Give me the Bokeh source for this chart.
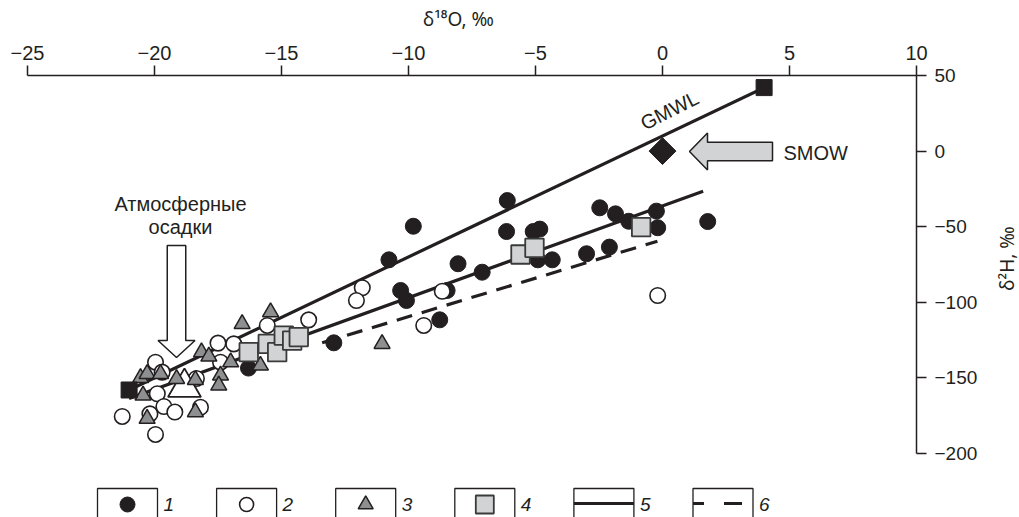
import math
from bokeh.plotting import figure
from bokeh.layouts import row
from bokeh.models import Range1d, LinearAxis, FixedTicker, Label, Grid
from bokeh.core.properties import value
from bokeh.embed import file_html
from bokeh.resources import INLINE

# ---------------- data ----------------
# 1: filled circles
s1_d18o = [-6.11, -6.14, -5.09, -4.83, -7.10, -8.05, -4.91, -4.34, -2.99, -2.09, -2.47, -1.85,
           -1.33, -0.24, -0.19, 1.78, -9.81, -10.77, -10.31, -10.08, -8.48, -8.77, -12.94, -16.30]
s1_d2h = [-32.7, -53.2, -53.2, -51.6, -80.1, -74.5, -71.9, -71.9, -67.9, -63.5, -37.5, -41.5,
          -46.4, -39.7, -50.7, -46.6, -49.7, -71.9, -92.2, -98.8, -92.2, -111.6, -126.8, -143.5]
# 2: open circles
s2_d18o = [-11.82, -12.05, -8.67, -9.40, -13.93, -0.19, -15.56, -17.50, -16.88, -17.40, -19.96,
           -19.70, -19.89, -21.27, -20.18, -19.63, -19.20, -19.96, -18.19, -18.35]
s2_d2h = [-90.4, -98.8, -92.7, -115.3, -111.6, -95.5, -115.3, -127.0, -127.5, -139.6, -139.6,
          -146.2, -160.5, -175.5, -173.8, -168.9, -172.6, -187.4, -169.4, -150.4]
# 3: grey triangles
s3_d18o = [-20.55, -20.29, -19.76, -19.13, -20.45, -18.39, -18.15, -17.86, -20.29, -18.39,
           -15.43, -16.55, -17.00, -17.40, -17.47, -15.83, -11.04]
s3_d2h = [-150.0, -147.3, -147.3, -150.6, -161.6, -151.3, -133.0, -135.8, -177.0, -172.6,
          -106.5, -114.3, -139.6, -148.4, -155.0, -141.8, -127.5]
# 4: grey squares
s4_d18o = [-16.29, -15.54, -15.17, -14.91, -14.58, -14.32, -5.59, -5.04, -0.84]
s4_d2h = [-133.0, -127.5, -133.0, -122.0, -125.3, -123.0, -68.4, -64.0, -50.3]
# mean atmospheric precipitation (large open triangle)
precip_d18o = [-18.82]
precip_d2h = [-156.3]
# GMWL end points (black squares) and line
gmwl_d18o = [-21.0, 4.0]
gmwl_d2h = [-158.0, 42.0]
# local line (5) and dashed line (6)
line5_d18o = [-21.0, 1.6]
line5_d2h = [-163.7, -26.5]
line6_d18o = [-13.4, -0.2]
line6_d2h = [-126.8, -59.6]
# SMOW
smow_d18o = [0.0]
smow_d2h = [0.0]

x_ticks = [-25, -20, -15, -10, -5, 0, 5, 10]
y_ticks = [-200, -150, -100, -50, 0, 50]
legend_labels = ["1", "2", "3", "4", "5", "6"]
y_title = "\u03b4\u00b2H, \u2030"

# ---------------- layout constants ----------------
W, H = 1019, 517
W_SIDE = 27    # narrow strip on the far right holding the d2H title
W_MAIN = W - W_SIDE
XS = 25.4      # px per permil d18O
YS = 1.512     # px per permil d2H
X0PX = 662.0   # pixel of d18O = 0
TOP = 75       # pixel of d2H = 50
RIGHT = 916    # pixel of d18O = 10 (right axis)
BLACK = "#231f20"
GREY_D = "#8e8f91"
GREY_L = "#d1d3d4"
FONT = "Liberation Sans"

x_start = -X0PX / XS
y_start = 50 - (H - TOP) / YS


def px_x(px):
    return (px - X0PX) / XS


def px_y(py):
    return 50 - (py - TOP) / YS


p = figure(width=W_MAIN, height=H, output_backend="svg", toolbar_location=None,
           x_range=Range1d(x_start, 10), y_range=Range1d(y_start, 50),
           x_axis_location=None, y_axis_location=None,
           min_border_left=0, min_border_right=W_MAIN - RIGHT, min_border_top=TOP, min_border_bottom=0)
p.outline_line_color = None
p.background_fill_color = "white"
p.border_fill_color = "white"
for r in list(p.center):
    if isinstance(r, Grid):
        r.visible = False

minus = lambda t: ("\u2212" + str(abs(t))) if t < 0 else str(t)

xa = LinearAxis(ticker=FixedTicker(ticks=x_ticks), bounds=(-25, 10),
                axis_label="\u03b4\u00b9\u2078O, \u2030",
                major_label_overrides={t: minus(t) for t in x_ticks})
ya = LinearAxis(ticker=FixedTicker(ticks=y_ticks), bounds=(-200, 50),
                major_label_overrides={t: minus(t) for t in y_ticks})
for ax in (xa, ya):
    ax.axis_line_color = BLACK
    ax.axis_line_width = 1.5
    ax.major_tick_line_color = BLACK
    ax.major_tick_line_width = 1.5
    ax.major_tick_in = 0
    ax.major_tick_out = 10
    ax.minor_tick_in = 0
    ax.minor_tick_out = 0
    ax.major_label_text_font = FONT
    ax.major_label_text_color = BLACK
    ax.axis_label_text_font = "Noto Sans"
    ax.axis_label_text_font_style = "normal"
    ax.axis_label_text_color = BLACK
    ax.axis_label_text_font_size = "19px"
xa.major_label_text_font_size = "20px"
xa.major_label_standoff = 6
xa.axis_label_standoff = 11
ya.major_label_text_font_size = "19px"
ya.major_label_standoff = 8
p.add_layout(xa, "above")
p.add_layout(ya, "right")

# ---------------- lines ----------------
p.line(gmwl_d18o, gmwl_d2h, line_color=BLACK, line_width=3.2)
p.line(line5_d18o, line5_d2h, line_color=BLACK, line_width=3.2)
p.line(line6_d18o, line6_d2h, line_color=BLACK, line_width=3.2, line_dash="16 10")

# ---------------- markers ----------------
p.scatter(s1_d18o, s1_d2h, marker="circle", size=16, fill_color=BLACK, line_color=BLACK, line_width=1)
p.scatter(s2_d18o, s2_d2h, marker="circle", size=15.5, fill_color="white", line_color=BLACK, line_width=1.6)
p.scatter(precip_d18o, precip_d2h, marker="triangle", size=33, fill_color="white", line_color=BLACK, line_width=1.8)
p.scatter(s3_d18o, s3_d2h, marker="triangle", size=16, fill_color=GREY_D, line_color=BLACK, line_width=1.5)
p.scatter(s4_d18o, s4_d2h, marker="square", size=18.5, fill_color=GREY_L, line_color="#3a3a3a", line_width=1.8)
p.scatter(gmwl_d18o, gmwl_d2h, marker="square", size=16, fill_color=BLACK, line_color=BLACK)
p.scatter(smow_d18o, smow_d2h, marker="square", angle=math.pi / 4, size=19, fill_color=BLACK, line_color=BLACK)


# ---------------- block arrows ----------------
def block_arrow(tip_x, tip_y, direction, shaft_len, shaft_w, head_len, head_w):
    # local coords: a = distance back from tip (px), c = across (px)
    pts = [(0, 0), (head_len, head_w / 2), (head_len, shaft_w / 2), (head_len + shaft_len, shaft_w / 2),
           (head_len + shaft_len, -shaft_w / 2), (head_len, -shaft_w / 2), (head_len, -head_w / 2)]
    xs, ys = [], []
    for a, c in pts:
        if direction == "down":
            dx, dy = c, a           # tail lies above the tip
        else:                       # "left": tail lies right of the tip
            dx, dy = a, c
        xs.append(tip_x + dx / XS)
        ys.append(tip_y + dy / YS)
    return xs, ys


ax_, ay_ = block_arrow(px_x(176), px_y(357), "down", 95, 18.5, 17, 37)
p.patch(ax_, ay_, fill_color="white", line_color=BLACK, line_width=1.5)
sx_, sy_ = block_arrow(px_x(689), px_y(151), "left", 65, 18.5, 18, 37)
p.patch(sx_, sy_, fill_color=GREY_L, line_color=BLACK, line_width=1.5)

# ---------------- texts ----------------
p.add_layout(Label(x=px_x(180), y=px_y(203), text="Атмосферные", text_font=FONT, text_font_size="20px",
                   text_color=BLACK, text_align="center", text_baseline="middle"))
p.add_layout(Label(x=px_x(180), y=px_y(226), text="осадки", text_font=FONT, text_font_size="20px",
                   text_color=BLACK, text_align="center", text_baseline="middle"))
p.add_layout(Label(x=px_x(783), y=px_y(152), text="SMOW", text_font=FONT, text_font_size="20px",
                   text_color=BLACK, text_align="left", text_baseline="middle"))
p.add_layout(Label(x=px_x(669), y=px_y(110), text="GMWL", text_font=FONT, text_font_size="20px",
                   text_color=BLACK, text_align="center", text_baseline="middle", angle=0.47))

# ---------------- legend (boxes below the chart) ----------------
centers_px = [127 + 119.1 * i for i in range(6)]
box_x = [px_x(c) for c in centers_px]
p.rect(x=box_x, y=[px_y(510)] * 6, width=60, height=44, width_units="screen", height_units="screen",
       fill_color="white", line_color=BLACK, line_width=1.3)
my = px_y(504)
p.scatter([box_x[0]], [my], marker="circle", size=15, fill_color=BLACK, line_color=BLACK)
p.scatter([box_x[1]], [my], marker="circle", size=14, fill_color="white", line_color=BLACK, line_width=1.6)
p.scatter([box_x[2]], [my], marker="triangle", size=15, fill_color=GREY_D, line_color=BLACK, line_width=1.5)
p.scatter([box_x[3]], [my], marker="square", size=18, fill_color=GREY_L, line_color="#3a3a3a", line_width=1.8)
ly = px_y(503)
p.line([px_x(centers_px[4] - 30), px_x(centers_px[4] + 30)], [ly, ly], line_color=BLACK, line_width=3.2)
p.line([px_x(centers_px[5] - 30), px_x(centers_px[5] + 30)], [ly, ly], line_color=BLACK, line_width=3.2,
       line_dash="18 20", line_dash_offset=7)
p.text(x=[px_x(c + 36) for c in centers_px], y=[px_y(504)] * 6, text=legend_labels,
       text_font=value(FONT), text_font_size="19px", text_font_style="italic", text_color=BLACK,
       text_align="left", text_baseline="middle")

# ---------------- d2H axis title strip (reads bottom-to-top) ----------------
# the row aligns this strip's frame with the main frame (top at TOP px), so map page px directly
p2 = figure(width=W_SIDE, height=H, output_backend="svg", toolbar_location=None,
            x_range=Range1d(W_MAIN, W), y_range=Range1d(H, TOP),
            x_axis_location=None, y_axis_location=None,
            min_border_left=0, min_border_right=0, min_border_top=TOP, min_border_bottom=0)
p2.outline_line_color = None
p2.background_fill_color = "white"
p2.border_fill_color = "white"
for r in list(p2.center):
    if isinstance(r, Grid):
        r.visible = False
p2.text(x=[1006], y=[258], text=[y_title], angle=math.pi / 2,
        text_font=value("Noto Sans"), text_font_size="19px", text_color=BLACK,
        text_align="center", text_baseline="middle")

layout = row(p, p2, spacing=0)
open("out.html", "w").write(file_html(layout, INLINE))
